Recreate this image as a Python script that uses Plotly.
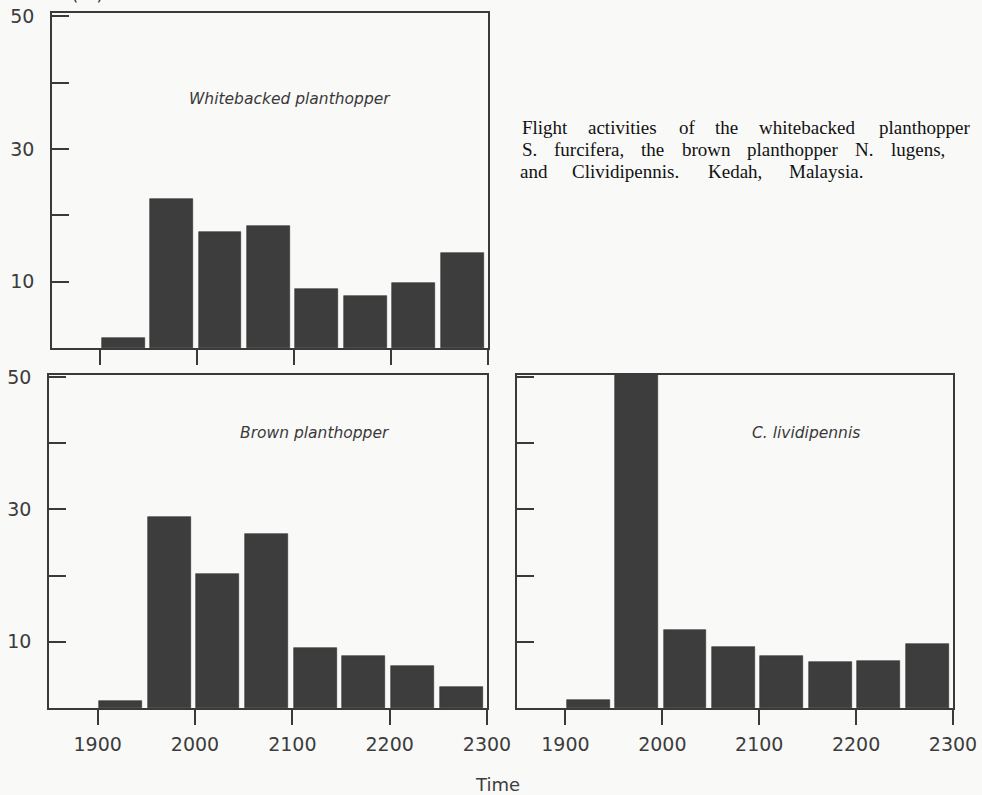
import plotly.graph_objects as go

# ---- data ----
time_bins = ["1900", "1930", "2000", "2030", "2100", "2130", "2200", "2230"]
whitebacked = [1.5, 22.4, 17.5, 18.4, 8.9, 7.8, 9.8, 14.3]
brown = [1.1, 28.9, 20.3, 26.3, 9.1, 7.9, 6.3, 3.2]
lividipennis = [1.2, 55.0, 11.8, 9.2, 7.8, 7.0, 7.1, 9.7]
x_tick_labels = ["1900", "2000", "2100", "2200", "2300"]
y_tick_vals = [10, 20, 30, 40, 50]
y_tick_labels = ["10", "", "30", "", "50"]

panel_titles = ["Whitebacked planthopper", "Brown planthopper", "C. lividipennis"]
caption_lines = [
    "Flight activities of the whitebacked planthopper",
    "S. furcifera, the brown planthopper N. lugens,",
    "and Clividipennis. Kedah, Malaysia.",
]

# convert "hhmm" to hours
hours = [int(t[:2]) + int(t[2:]) / 60 for t in time_bins]
x_tick_vals = [int(t[:2]) + int(t[2:]) / 60 for t in x_tick_labels]

W, H = 982, 795
BG = "#f9f9f8"
INK = "#3a3a3a"
BAR = "#3d3d3d"
TICKFONT = dict(family="DejaVu Sans", size=19, color="#3c3c3c")


def px_x(p):
    return p / W


def px_y(p):
    return 1 - p / H


fig = go.Figure()
series = [whitebacked, brown, lividipennis]
for i, vals in enumerate(series):
    sfx = "" if i == 0 else str(i + 1)
    fig.add_trace(go.Bar(
        x=hours, y=vals, xaxis="x" + sfx, yaxis="y" + sfx,
        offset=0.012, width=0.443,
        marker=dict(color=BAR, line=dict(color="#2e2e2e", width=0.6)),
        showlegend=False, hoverinfo="x+y",
    ))

domains = [
    ((52, 488), (13, 348)),
    ((49, 487), (375, 708)),
    ((517, 953), (375, 708)),
]
yranges = [[0, 50.5], [0, 50.3], [0, 50.3]]

layout = dict(
    width=W, height=H, paper_bgcolor=BG, plot_bgcolor=BG,
    margin=dict(l=0, r=0, t=0, b=0, autoexpand=False), bargap=0, showlegend=False,
)
for i, ((x0, x1), (y0, y1)) in enumerate(domains):
    sfx = "" if i == 0 else str(i + 1)
    layout["xaxis" + sfx] = dict(
        domain=[px_x(x0), px_x(x1)], range=[18.5, 23.0], anchor="y" + sfx,
        showgrid=False, zeroline=False, showline=True, linecolor=INK, linewidth=1.6,
        mirror=True, ticks="outside", ticklen=15, tickwidth=1.6, tickcolor=INK,
        tickvals=x_tick_vals, ticktext=x_tick_labels, showticklabels=(i > 0),
        tickfont=TICKFONT, ticklabelstandoff=3, fixedrange=True, automargin=False,
    )
    layout["yaxis" + sfx] = dict(
        domain=[px_y(y1), px_y(y0)], range=yranges[i], anchor="x" + sfx,
        showgrid=False, zeroline=False, showline=True, linecolor=INK, linewidth=1.6,
        mirror=True, ticks="inside", ticklen=17, tickwidth=1.6, tickcolor=INK,
        tickvals=y_tick_vals, ticktext=y_tick_labels, showticklabels=(i < 2),
        tickfont=TICKFONT, ticklabelstandoff=12, fixedrange=True, automargin=False,
    )
fig.update_layout(**layout)

# panel titles
title_pos = [(290, 99), (315, 433), (806, 433)]
for t, (cx, cy) in zip(panel_titles, title_pos):
    fig.add_annotation(
        text="<i>" + t + "</i>", xref="paper", yref="paper",
        x=px_x(cx), y=px_y(cy), xanchor="center", yanchor="middle",
        showarrow=False, font=dict(family="DejaVu Sans", size=15.5, color="#3a3a3a"),
    )

# caption (justified by placing words)
word_x = [
    [520, 586, 677, 713, 757, 877],
    [520, 552, 639, 680, 745, 853, 889],
    [518, 570, 706, 787],
]
line_y = [128, 150, 172]
for line, xs, cy in zip(caption_lines, word_x, line_y):
    for w, wx in zip(line.split(" "), xs):
        fig.add_annotation(
            text=w, xref="paper", yref="paper", x=px_x(wx), y=px_y(cy),
            xanchor="left", yanchor="middle", showarrow=False,
            font=dict(family="Liberation Serif", size=19, color="#111111"),
        )

# x-axis title
fig.add_annotation(
    text="Time", xref="paper", yref="paper", x=px_x(497), y=px_y(784),
    xanchor="center", yanchor="middle", showarrow=False,
    font=dict(family="DejaVu Sans", size=18, color="#3c3c3c"),
)
# y-axis title (cut off at top of page in the original)
fig.add_annotation(
    text="Catch (%)", xref="paper", yref="paper", x=px_x(8), y=px_y(6),
    xanchor="left", yanchor="bottom", showarrow=False,
    font=dict(family="DejaVu Sans", size=19, color="#3c3c3c"),
)

fig.write_html(
    "out.html",
    config=dict(displayModeBar=False),
    post_script="document.body.style.margin='0';document.body.style.overflow='hidden';",
)
